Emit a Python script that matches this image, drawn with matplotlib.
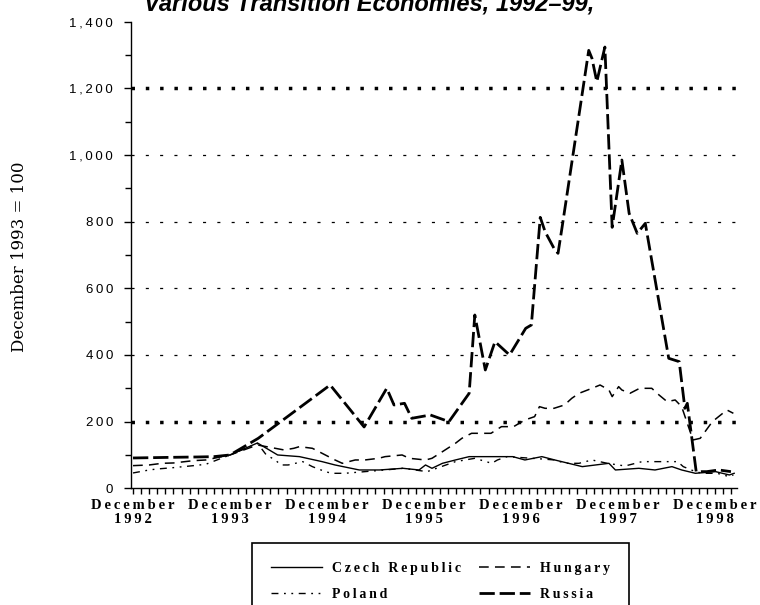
import matplotlib
matplotlib.use("Agg")
import matplotlib.pyplot as plt
from matplotlib.ticker import FixedLocator, MultipleLocator, FuncFormatter

plt.rcParams['lines.scale_dashes'] = False

# months counted from December 1992 (= 0); index, December 1993 = 100
russia_m = [0, 2.5, 5, 8, 10, 12, 15.5, 24.4, 28.6, 31.4, 32.3, 33.6, 34.5, 36.8, 39.1, 41.6,
            42.3, 43.6, 44.8, 46.6, 48.6, 49.3, 50.4, 51.0, 52.1, 52.6, 53.1, 56.4, 56.8, 57.4,
            58.4, 59.3, 60.5, 61.4, 62.4, 63.4, 66.3, 67.6, 68.3, 68.6, 69.7, 71, 72.5, 74]
russia_v = [91, 92, 93, 94, 95, 100, 150, 310, 184, 300, 250, 255, 210, 220, 200, 285,
            520, 355, 440, 400, 480, 490, 813, 770, 720, 705, 783, 1314, 1290, 1220,
            1324, 783, 985, 825, 765, 795, 390, 380, 240, 255, 50, 50, 55, 50]

czech_m = [12, 15.4, 17.9, 20.6, 23.4, 25, 28, 30.5, 33.4, 35.4, 36.2, 37, 38.3, 39.9, 41.6,
           45.8, 47, 48.5, 50.6, 52.2, 55.6, 58.9, 59.7, 62.6, 64.6, 66.7, 67.9, 69.6, 72.1,
           73.8, 74.4]
czech_v = [100, 136, 100, 95, 80, 70, 55, 55, 60, 55, 70, 60, 75, 85, 95,
           95, 95, 85, 95, 85, 65, 75, 55, 60, 55, 65, 55, 45, 50,
           40, 45]

hungary_m = [0, 2, 3.6, 5, 7.5, 9, 12, 15.4, 17.6, 18.7, 19.9, 20.6, 22.2, 23.4, 25, 25.9,
             27.5, 28.7, 30.4, 31.2, 33.3, 34.2, 36.2, 37, 38.3, 39.9, 40.7, 41.9, 44.3, 45.6,
             47.1, 48.5, 49.7, 50.3, 51, 52.1, 53.4, 54.3, 55.2, 56.8, 57.8, 58.9, 59.3, 60.1,
             60.5, 61.5, 62.7, 64.2, 65.1, 66.1, 67.1, 67.9, 69.3, 70.2, 71.7, 73.5, 74.3]
hungary_v = [68, 70, 75, 76, 83, 85, 100, 130, 120, 115, 120, 125, 120, 105, 85, 75,
             85, 85, 90, 95, 100, 90, 85, 90, 110, 135, 150, 165, 165, 185,
             185, 205, 215, 245, 240, 240, 250, 270, 285, 300, 310, 295, 275, 305,
             295, 285, 300, 300, 280, 260, 265, 245, 145, 150, 200, 235, 225]

poland_m = [0, 2, 3, 5, 7.5, 9, 12, 15.4, 16.5, 17.6, 18.3, 19.2, 21, 22.2, 23.8, 24.6, 26.2,
            31.2, 33.4, 36.4, 39.9, 42.3, 44.4, 45.1, 46.3, 50.6, 52.2, 53.5, 55.2, 56.8, 58.7,
            60.9, 63, 64.9, 67.4, 68.1, 69.6, 70.5, 72.3, 73.8, 74.3]
poland_v = [46, 55, 58, 62, 68, 72, 100, 135, 100, 85, 70, 70, 80, 65, 50, 45, 45,
            55, 60, 50, 80, 90, 75, 85, 95, 88, 85, 75, 75, 85, 75,
            67, 80, 80, 80, 65, 50, 45, 45, 35, 40]

years = ['1992', '1993', '1994', '1995', '1996', '1997', '1998']
title = "Various Transition Economies, 1992\u201399,"
ylabel = "December 1993 = 100"


def spaced(s):
    return '\u2009'.join(s)


fig = plt.figure(figsize=(7.6, 6.05), dpi=100)
ax = fig.add_axes([131 / 760, 1 - 488.3 / 605, (737 - 131) / 760, (488.3 - 21.7) / 605])

# dotted reference lines
for lvl in [400, 600, 800, 1000]:
    ax.axhline(lvl, color='black', lw=0.9, dashes=(2.2, 8.1), zorder=1)
for lvl in [200, 1200]:
    ax.axhline(lvl, color='black', lw=2.5, dashes=(2.5, 7.8), zorder=1)

ax.plot(czech_m, czech_v, color='black', lw=1.0, label=spaced('Czech Republic'), zorder=3)
ax.plot(poland_m, poland_v, color='black', lw=1.0, dashes=(5, 4, 1.3, 4, 1.3, 4),
        label=spaced('Poland'), zorder=3)
ax.plot(hungary_m, hungary_v, color='black', lw=1.1, dashes=(7, 4.5),
        label=spaced('Hungary'), zorder=3)
ax.plot(russia_m, russia_v, color='black', lw=2.0, dashes=(11, 3.5),
        label=spaced('Russia'), zorder=3)

ax.set_xlim(-0.25, 74.75)
ax.set_ylim(0, 1400)
for side in ['top', 'right']:
    ax.spines[side].set_visible(False)
ax.spines['left'].set_linewidth(1.0)
ax.spines['bottom'].set_linewidth(1.0)

ax.yaxis.set_major_locator(MultipleLocator(200))
ax.yaxis.set_minor_locator(MultipleLocator(100))
ax.yaxis.set_major_formatter(FuncFormatter(lambda v, p: spaced(f"{int(v):,}")))
ax.tick_params(axis='y', which='major', length=5, width=1, direction='out', pad=8,
               labelsize=9.5)
ax.tick_params(axis='y', which='minor', length=4, width=1, direction='out')
for lab in ax.get_yticklabels():
    lab.set_fontfamily('Liberation Sans')

ax.xaxis.set_major_locator(FixedLocator([12 * i for i in range(len(years))]))
ax.xaxis.set_minor_locator(FixedLocator(list(range(75))))
ax.set_xticklabels([spaced('December') + '\n' + spaced(y) for y in years],
                   fontfamily='Liberation Serif', fontweight='bold', fontsize=10.5,
                   linespacing=1.1)
ax.tick_params(axis='x', which='both', length=4, width=1, direction='out', pad=4)

fig.text(20 / 760, 1 - 256.5 / 605, ylabel, rotation=90, ha='center', va='center',
         fontfamily='DejaVu Serif', fontsize=12)

fig.text(369 / 760, 1 - 11 / 605, title, ha='center', va='baseline',
         fontfamily='Liberation Sans', fontweight='bold', fontstyle='italic', fontsize=17)

handles, labels = ax.get_legend_handles_labels()
leg = fig.legend(handles, labels, loc='upper left', bbox_to_anchor=(252 / 760, 1 - 543 / 605),
                 ncol=2, frameon=True, fancybox=False, framealpha=1, edgecolor='black',
                 handlelength=3.7, handletextpad=0.7, columnspacing=1.3, labelspacing=0.95,
                 borderpad=1.35, borderaxespad=0,
                 prop={'family': 'Liberation Serif', 'weight': 'bold', 'size': 10})
leg.get_frame().set_linewidth(1.2)

fig.savefig('out.png', dpi=100)
